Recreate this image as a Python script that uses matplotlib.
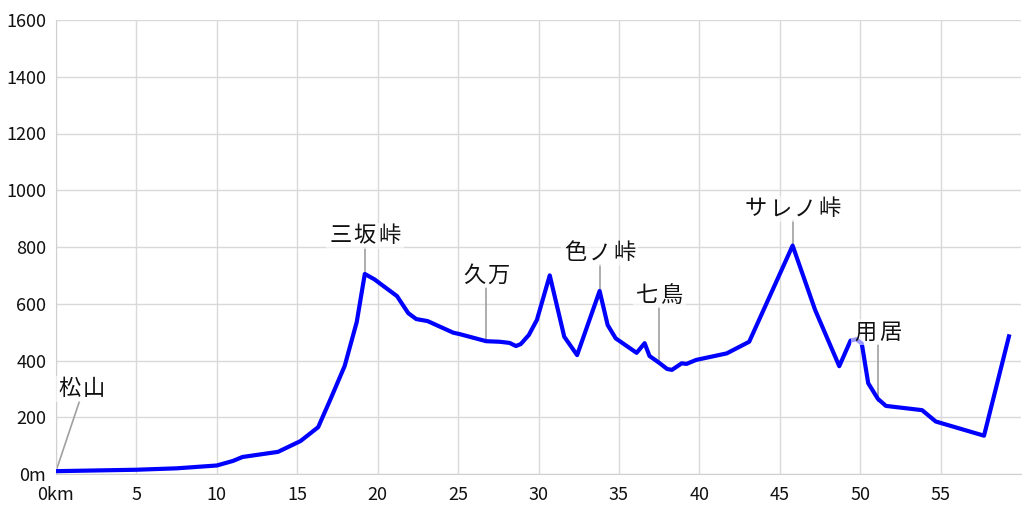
import matplotlib
matplotlib.use("Agg")
import matplotlib.pyplot as plt
from matplotlib.patches import Rectangle
from matplotlib.transforms import Affine2D, ScaledTranslation

plt.rcParams['font.family'] = ['Noto Sans CJK JP', 'DejaVu Sans']

# distance (km) and elevation (m)
dist_km = [0.0, 5.0, 7.5, 10.0, 11.0, 11.6, 13.8, 15.2, 16.3, 17.1, 17.95, 18.7, 19.2,
           19.8, 20.7, 21.2, 21.9, 22.4, 23.1, 24.7, 25.1, 26.75, 27.6, 28.2, 28.6, 28.9,
           29.4, 29.9, 30.7, 31.6, 32.4, 33.8, 34.3, 34.8, 36.1, 36.6, 36.9, 37.5, 38.0,
           38.3, 38.9, 39.2, 39.8, 41.7, 43.1, 45.8, 47.2, 48.7, 49.4, 49.75, 50.1, 50.5,
           51.1, 51.6, 53.85, 54.7, 57.7, 59.25]
elev_m = [10, 15, 20, 30, 46, 60, 78, 116, 165, 268, 381, 536, 705,
          686, 648, 627, 567, 546, 539, 498, 493, 468, 466, 462, 451, 458,
          490, 543, 700, 484, 419, 645, 525, 478, 427, 461, 416, 392, 370,
          367, 390, 388, 402, 425, 466, 805, 578, 380, 470, 475, 460, 320,
          265, 240, 225, 185, 135, 485]

# place labels: name, km position, elevation of point, label elevation
place_names = ["松山", "三坂峠", "久万", "色ノ峠", "七鳥", "サレノ峠", "用居"]
place_km = [0.0, 19.2, 26.75, 33.8, 37.5, 45.8, 51.1]
place_elev = [10, 705, 468, 645, 392, 805, 256]
label_elev = [300, 840, 700, 780, 630, 935, 500]

xticks = [0, 5, 10, 15, 20, 25, 30, 35, 40, 45, 50, 55]
xtick_labels = ["0km"] + [str(v) for v in xticks[1:]]
yticks = [0, 200, 400, 600, 800, 1000, 1200, 1400, 1600]
ytick_labels = ["0m"] + [str(v) for v in yticks[1:]]

fig = plt.figure(figsize=(10.24, 5.12), dpi=100)
ax = fig.add_axes([56/1024, (512-474)/512, 965/1024, (474-20)/512])
ax.set_xlim(0, 60)
ax.set_ylim(0, 1600)
ax.set_xticks(xticks)
ax.set_xticklabels(xtick_labels)
ax.set_yticks(yticks)
ax.set_yticklabels(ytick_labels)
ax.tick_params(length=0, labelsize=13, colors='#111111')
ax.tick_params(axis='y', pad=7)
ax.tick_params(axis='x', pad=9)
ax.grid(True, color='#d9d9d9', linewidth=1)
ax.set_axisbelow(True)
for s in ['top', 'right']:
    ax.spines[s].set_visible(False)
for s in ['left', 'bottom']:
    ax.spines[s].set_color('#d0d0d0')

ax.plot(dist_km, elev_m, color='#0000ff', linewidth=3, solid_joinstyle='round', zorder=3)

CHAR_PX = 24.5
BOX_H = 26
for i, name in enumerate(place_names):
    kx = place_km[i]
    if i == 0:
        tx = 1.6
        ax.plot([kx, 1.45], [place_elev[i], 255], color='#a0a0a0', lw=1.2, zorder=2)
    else:
        tx = kx
        ax.plot([kx, kx], [place_elev[i], label_elev[i] - 45], color='#a0a0a0', lw=1.2, zorder=2)
    n = len(name)
    w = n * CHAR_PX + 4
    tr = Affine2D().translate(-w / 2, -BOX_H / 2) + ScaledTranslation(tx, label_elev[i], ax.transData)
    ax.add_patch(Rectangle((0, 0), w, BOX_H, transform=tr, fc='white', ec='none',
                           alpha=0.6, zorder=4, clip_on=False))
    for j, ch in enumerate(name):
        off = (j - (n - 1) / 2) * CHAR_PX
        ax.annotate(ch, (tx, label_elev[i]), xytext=(off, 0), textcoords='offset pixels',
                    fontsize=16, ha='center', va='center', zorder=5, color='#111111')

fig.savefig("out.png", dpi=100)
